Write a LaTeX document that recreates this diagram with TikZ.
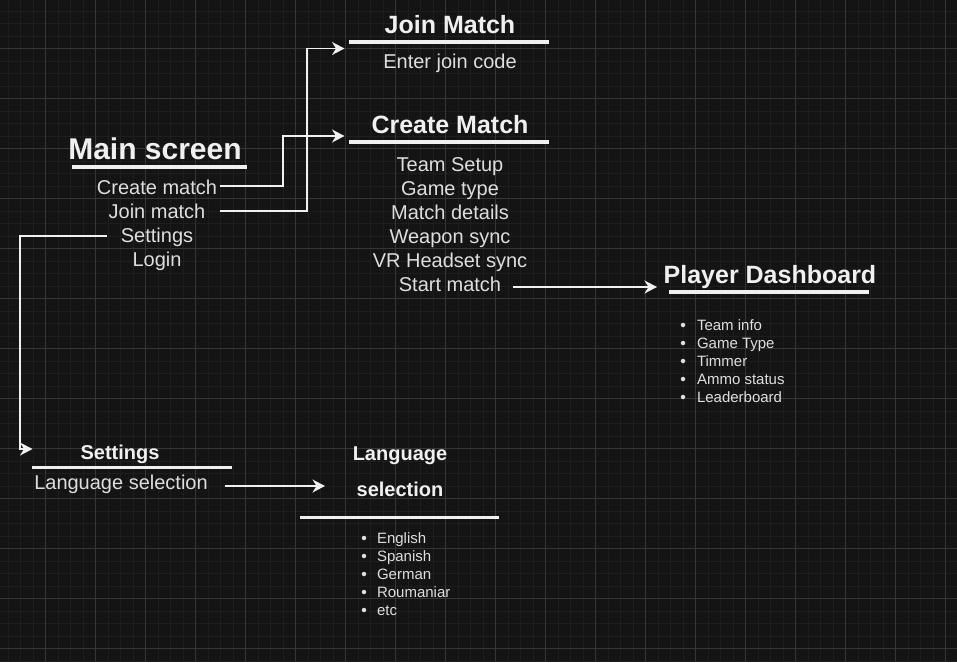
\documentclass[tikz,border=0pt]{standalone}
\usepackage{fontspec}
\setmainfont{Liberation Sans}
\usetikzlibrary{arrows.meta}
\definecolor{bg}{RGB}{20,20,20}
\definecolor{gminor}{RGB}{30,30,30}
\definecolor{gmajor}{RGB}{54,54,54}
\definecolor{titlec}{RGB}{240,240,240}
\definecolor{bodyc}{RGB}{222,222,222}
\definecolor{linec}{RGB}{240,240,240}
\begin{document}
\begin{tikzpicture}[x=1pt,y=-1pt,
  every node/.style={inner sep=0pt, outer sep=0pt},
  ttl/.style={font=\fontsize{25}{30}\selectfont\bfseries, text=titlec, anchor=base},
  subttl/.style={font=\fontsize{20}{24}\selectfont\bfseries, text=titlec, anchor=base},
  body/.style={font=\fontsize{20}{24}\selectfont, text=bodyc, anchor=base},
  small/.style={font=\fontsize{15}{18}\selectfont, text=bodyc, anchor=base west},
  uline/.style={draw=titlec, line width=3.5pt},
  ulinethin/.style={draw=titlec, line width=3pt},
  conn/.style={draw=linec, line width=1.5pt, -{Stealth[length=12.5pt,width=13pt,inset=4pt]}},
  dot/.style={fill=bodyc, circle, minimum size=4.5pt}
]
\fill[bg] (0,0) rectangle (957,662);
\useasboundingbox (0,0) rectangle (957,662);
\begin{scope}
\clip (0,0) rectangle (957,662);
\foreach \i in {0,...,76} {\draw[gminor, line width=1pt] ({8+12.5*\i},0) -- ++(0,662);}
\foreach \i in {0,...,52} {\draw[gminor, line width=1pt] (0,{11.2+12.5*\i}) -- ++(957,0);}
\foreach \i in {0,...,18} {\draw[gmajor, line width=1pt] ({45.5+50*\i},0) -- ++(0,662);}
\foreach \i in {0,...,12} {\draw[gmajor, line width=1pt] (0,{48.7+50*\i}) -- ++(957,0);}
\end{scope}

% Main screen
\node[ttl, font=\fontsize{30}{36}\selectfont\bfseries] (main) at (155,159) {Main screen};
\draw[uline] (72,167) -- (247,167);
\node[body] (mCreate) at (157,194) {Create match};
\node[body] (mJoin) at (157,218) {Join match};
\node[body] (mSettings) at (157,242) {Settings};
\node[body] (mLogin) at (157,266) {Login};

% Join Match
\node[ttl] (joinT) at (450,33) {Join Match};
\draw[uline] (349,42) -- (549,42);
\node[body] (joinCode) at (450,68) {Enter join code};

% Create Match
\node[ttl] (createT) at (450,133) {Create Match};
\draw[uline] (349,142) -- (549,142);
\node[body] (cTeam) at (450,171) {Team Setup};
\node[body] (cGame) at (450,195) {Game type};
\node[body] (cDetails) at (450,219) {Match details};
\node[body] (cWeapon) at (450,243) {Weapon sync};
\node[body] (cVR) at (450,267) {VR Headset sync};
\node[body] (cStart) at (450,291) {Start match};

% Player Dashboard
\node[ttl] (dashT) at (770,283) {Player Dashboard};
\draw[uline] (669,292) -- (869,292);
\foreach \t [count=\k from 0] in {Team info, Game Type, Timmer, Ammo status, Leaderboard} {
  \node[dot] (pdDot\k) at (683,{325+18*\k}) {};
  \node[small] (pdItem\k) at (697,{330+18*\k}) {\t};
}

% Settings
\node[subttl] (setT) at (120,459) {Settings};
\draw[ulinethin] (32,467) -- (232,467);
\node[body] (setLang) at (121,489) {Language selection};

% Language selection
\node[subttl] (langT1) at (400,460) {Language};
\node[subttl] (langT2) at (400,496) {selection};
\draw[ulinethin] (300,517) -- (499,517);
\foreach \t [count=\k from 0] in {English, Spanish, German, Roumaniar, etc} {
  \node[dot] (lgDot\k) at (364,{538+18*\k}) {};
  \node[small] (lgItem\k) at (377,{543+18*\k}) {\t};
}

% connectors
\coordinate (cOut) at (220,186);
\coordinate (jOut) at (220,211);
\coordinate (sOut) at (107,236);
\coordinate (jmIn) at (344.5,48.5);
\coordinate (cmIn) at (344.5,136);
\coordinate (setIn) at (32.5,449);
\coordinate (smOut) at (513,287);
\coordinate (pdIn) at (657,287);
\coordinate (lsOut) at (225,486);
\coordinate (lsIn) at (325,486);
\draw[conn] (cOut) -- (283,186) |- (cmIn);
\draw[conn] (jOut) -- (307,211) |- (jmIn);
\draw[conn] (sOut) -- (20,236) |- (setIn);
\draw[conn] (smOut) -- (pdIn);
\draw[conn] (lsOut) -- (lsIn);
\end{tikzpicture}
\end{document}
